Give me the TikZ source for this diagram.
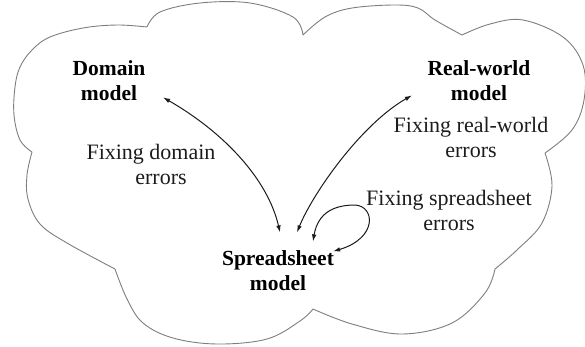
\documentclass[tikz,border=0pt]{standalone}
\usepackage{fontspec}
\setmainfont{Liberation Serif}
\newfontfamily\serifface{Liberation Serif}
\usetikzlibrary{arrows.meta}

\definecolor{cloudgray}{HTML}{7E7E7E}
\definecolor{inkdark}{HTML}{1A1A1A}
\definecolor{notegray}{HTML}{1C1C1C}

\tikzset{
  modelbox/.style={font=\serifface\bfseries\fontsize{21.5}{24.5}\selectfont, align=center,
    inner sep=0pt, text=black},
  fixnote/.style={font=\serifface\fontsize{22}{25}\selectfont, align=center,
    inner sep=0pt, text=notegray},
  cloudline/.style={draw=cloudgray, line width=0.9pt, line join=round},
  tipshape/.tip={Latex[length=7pt,width=4.6pt]},
  twoway/.style={draw=inkdark, line width=1pt, tipshape-tipshape},
}

\begin{document}
\begin{tikzpicture}[x=1pt, y=-1pt]
\useasboundingbox (0,0) rectangle (585,346);

% cloud outline, one smooth lobe between each pair of cusps
\draw[cloudline]
  plot[smooth, tension=0.6] coordinates {(32,152) (20,140) (14,115) (15,87) (20,67) (32,50) (50,37) (83,28) (117,25) (147,27)}
  plot[smooth, tension=0.6] coordinates {(147,27) (160,12) (200,3) (250,3) (293,17) (303,35)}
  plot[smooth, tension=0.6] coordinates {(303,35) (325,17) (352,8) (395,5) (418,8) (435,20) (462,35)}
  plot[smooth, tension=0.6] coordinates {(462,35) (490,24) (523,20) (563,37) (583,65) (584,100) (572,130) (545,153)}
  plot[smooth, tension=0.6] coordinates {(545,153) (552,186) (542,223) (518,249) (495,269)}
  plot[smooth, tension=0.6] coordinates {(495,269) (485,293) (452,323) (402,334) (352,324) (313,309)}
  plot[smooth, tension=0.6] coordinates {(313,309) (300,321) (267,339) (217,344) (173,338) (143,323) (127,299) (115,269)}
  plot[smooth, tension=0.6] coordinates {(115,269) (67,243) (40,224) (28,199) (27,175) (32,152)};

% the three models
\node[modelbox] (dom) at (109,80.4) {Domain\\model};
\node[modelbox] (rw)  at (479,80.4) {Real-world\\model};
\node[modelbox] (sp)  at (278,270.4) {Spreadsheet\\model};

% repair activities
\node[fixnote] (fixdom) at (151,164.5) {Fixing domain\\\hspace*{20pt}errors};
\node[fixnote] (fixrw)  at (471,137.3) {Fixing real-world\\errors};
\node[fixnote] (fixsp)  at (449,210.8) {Fixing spreadsheet\\errors};

% two-way links between the models
\draw[twoway] ([shift={(17.5,-3)}]dom.south east)
  .. controls (225,133) and (268,180) .. ([shift={(2,-18)}]sp.north);
\draw[twoway] ([shift={(19,-18)}]sp.north)
  .. controls (312,195) and (360,125) .. ([shift={(-15.6,-5)}]rw.south west);

% self loop on the spreadsheet model
\coordinate (looptop) at (355,205);
\draw[twoway] ([shift={(35,-9)}]sp.north)
  .. controls (318,212) and (335,205) .. (looptop)
  .. controls (375,206) and (378,238) .. ([shift={(-1,1)}]sp.north east);
\end{tikzpicture}
\end{document}
